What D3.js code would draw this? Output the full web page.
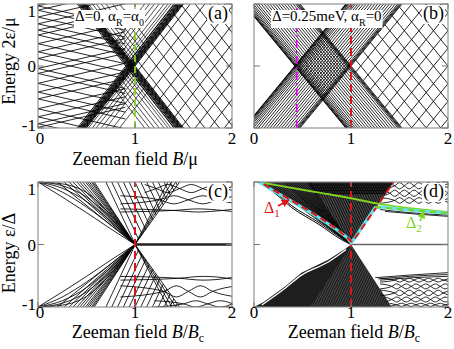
<!DOCTYPE html>
<html><head><meta charset="utf-8">
<script src="https://cdn.jsdelivr.net/npm/d3@7/dist/d3.min.js"></script>
<style>
html,body{margin:0;padding:0;background:#fff;}
svg{display:block;}
text{font-family:'Liberation Serif','DejaVu Serif',serif;}
</style></head><body>
<svg id="fig" width="454" height="349" font-family="Liberation Serif, DejaVu Serif, serif"></svg>
<script>
// ================= DATA =================
const xTickValues = [0, 1, 2];
const xTickLabels = ["0", "1", "2"];
const yTickValues = [-1, 0, 1];
const yTickLabels = ["-1", "0", "1"];

// panel (a): Δ=0, α_R=α_0
const slopeA = 2.0;
const bandA = [0.905, 0.92, 0.93, 0.94, 0.95, 0.958, 0.966, 0.974, 0.982, 0.99, 1.0];
const gridA = [1.07, 1.22, 1.37, 1.52, 1.67, 1.82, 1.97, 2.12, 2.27, 2.42];
const wedgeA = [0.6, 0.65, 0.7, 0.75, 0.8, 0.84, 0.87, 0.9, 1.02, 1.06, 1.1, 1.15, 1.2, 1.27, 1.34];
const levelsA = [0.97, 0.9, 0.79, 0.68, 0.58, 0.5, 0.36, 0.23, 0.12, -0.04, -0.12, -0.28, -0.42, -0.53, -0.69, -0.82, -0.93, -0.99];
const braidSlopeA = 0.36;
const criticalA = 1.0;

// panel (b): Δ=0.25meV, α_R=0
const slopeB = 1.9;
const bandB = [0.42, 0.425, 0.43, 0.44, 0.45, 0.465, 0.48, 0.5, 0.52, 0.545, 0.57, 0.6, 0.63, 0.66, 0.69, 0.72, 0.75, 0.78, 0.81, 0.84, 0.87, 0.9, 0.93, 0.955, 0.97, 0.98, 0.99, 1.0];
const gridB = [1.1, 1.25, 1.4, 1.55, 1.7, 1.85, 2.0, 2.15, 2.3, 2.45, 2.6];
const markerB = 0.44;
const criticalB = 1.0;

// panel (c)
const fanStartsC = [0.2, 0.27, 0.32, 0.36, 0.4, 0.43, 0.46, 0.49, 0.51, 0.53, 0.55, 0.565, 0.58];
const curveNodesC = [0, 0.25, 0.5, 0.75, 1];
const curvesC = [
  [1, 0.76, 0.51, 0.25, 0],
  [1, 0.84, 0.6, 0.31, 0],
  [1, 0.9, 0.69, 0.37, 0],
  [1, 0.94, 0.76, 0.42, 0],
  [1, 0.97, 0.83, 0.47, 0]
];
const wedgeEdgesC = [1.34, 1.38, 1.42, 1.46];
const hatchC = [0.7, 0.76, 0.82, 0.88, 0.94, 1.0, 1.06, 1.12, 1.18, 1.24, 1.3, 1.36, 1.42];
const hatchSlopeC = -3.3;
const braidsC = [
  {lo: 0.83, hi: 0.96, nodes: [1.1, 1.22, 1.46, 1.70, 1.95, 2.05]},
  {lo: 0.65, hi: 0.78, nodes: [0.85, 1.25, 1.55, 1.85, 2.05]},
  {lo: 0.52, hi: 0.57, nodes: [0.85, 1.4, 1.9, 2.05]},
  {lo: -0.57, hi: -0.51, nodes: [0.85, 1.45, 1.95, 2.05]},
  {lo: -0.84, hi: -0.66, nodes: [0.85, 1.3, 1.55, 1.8, 2.05]},
  {lo: -1.0, hi: -0.9, nodes: [1.2, 1.5, 1.75, 2.0, 2.05]}
];
const zeroModeC = [[1, 0], [2, 0]];
const criticalC = 1.0;

// panel (d)
const fanStartsD = [0.12, 0.15, 0.18, 0.21, 0.24, 0.27, 0.3, 0.32, 0.34, 0.36, 0.38, 0.4, 0.42, 0.44, 0.46, 0.48, 0.5, 0.52, 0.54, 0.56];
const hatchD = [0.56, 0.585, 0.61, 0.635, 0.66, 0.685, 0.71, 0.735, 0.76, 0.785, 0.81, 0.835, 0.86, 0.885, 0.91, 0.935, 0.96, 0.985, 1.01, 1.035, 1.06, 1.085, 1.11, 1.135, 1.16, 1.185, 1.21, 1.235, 1.26, 1.285, 1.31, 1.335, 1.36, 1.385, 1.41, 1.435];
const hatchSlopeD = -3.3;
const stripesD = [0.99, 0.965, 0.94, 0.915, 0.89, 0.865, 0.84, 0.815];
const topCurvesD = [
  [[0.05, 1], [0.2, 0.86], [0.39, 0.62], [0.67, 0.35], [0.9, 0.1], [1, 0]],
  [[0.05, 1], [0.2, 0.84], [0.39, 0.59], [0.67, 0.32], [0.9, 0.08], [1, 0]]
];
const bottomEdgeD = [[0, -1], [0.1, -0.92], [0.32, -0.67], [0.49, -0.45], [0.77, -0.24], [0.95, -0.06], [1, 0]];
const bottomWhiteD = [[0.08, -0.97], [0.32, -0.7], [0.49, -0.49], [0.77, -0.275], [0.95, -0.08]];
const bottomRightEdgeD = [[1, 0], [1.42, -1]];
const braidsD = [
  {lo: 0.89, hi: 0.99, nodes: [1.35, 1.45, 1.55, 1.65, 1.75, 1.85, 1.95, 2.05]},
  {lo: 0.77, hi: 0.87, nodes: [1.3, 1.4, 1.5, 1.6, 1.7, 1.8, 1.9, 2.0, 2.05]},
  {lo: 0.66, hi: 0.75, nodes: [1.3, 1.45, 1.55, 1.65, 1.75, 1.85, 1.95, 2.05]},
  {lo: -0.6, hi: -0.54, nodes: [1.3, 1.45, 1.55, 1.65, 1.75, 1.85, 1.95, 2.05]},
  {lo: -0.71, hi: -0.63, nodes: [1.3, 1.42, 1.52, 1.62, 1.72, 1.82, 1.92, 2.02, 2.05]},
  {lo: -0.82, hi: -0.73, nodes: [1.3, 1.45, 1.55, 1.65, 1.75, 1.85, 1.95, 2.05]},
  {lo: -0.92, hi: -0.84, nodes: [1.35, 1.42, 1.52, 1.62, 1.72, 1.82, 1.92, 2.02, 2.05]},
  {lo: -0.99, hi: -0.94, nodes: [1.4, 1.47, 1.57, 1.67, 1.77, 1.87, 1.97, 2.05]}
];
const belowCyanD = [
  [[1.3, 0.56], [1.6, 0.51], [2, 0.47]],
  [[1.35, 0.53], [1.65, 0.49], [2, 0.45]]
];
const lowerLinesD = [
  [[1.25, -0.53], [1.6, -0.49], [2, -0.45]],
  [[1.28, -0.55], [1.6, -0.51], [2, -0.48]],
  [[1.3, -0.57], [1.65, -0.53], [2, -0.51]]
];
const cyanD = [[0.05, 1.0], [0.2, 0.86], [0.39, 0.69], [0.67, 0.43], [0.85, 0.24], [0.96, 0.11], [1.0, 0.03], [1.04, 0.1], [1.11, 0.27], [1.25, 0.59], [1.32, 0.6], [1.53, 0.56], [2.0, 0.5]];
const redD = [[0.1, 0.965], [0.2, 0.87], [0.39, 0.7], [0.67, 0.44], [0.85, 0.25], [0.96, 0.11], [1.0, 0.05], [1.02, 0.05], [1.44, 1.0]];
const greenD = [[0.05, 1.0], [0.3, 0.93], [0.67, 0.83], [1.0, 0.74], [1.29, 0.65], [1.6, 0.58], [2.0, 0.52]];
const greenDashD = [[1.25, 0.6], [1.53, 0.56], [2.0, 0.5]];
const zeroModeD = [[1, 0], [2, 0]];
const criticalD = 1.0;

// ================= DRAWING =================
const FONT = "Liberation Serif, DejaVu Serif, serif";
const frames = {
  a: {l: 38, r: 232, t: 4, b: 128},
  b: {l: 254, r: 448, t: 4, b: 128},
  c: {l: 38, r: 232, t: 182, b: 307},
  d: {l: 254, r: 448, t: 182, b: 307}
};
const svg = d3.select("#fig");
const defs = svg.append("defs");
let clipCount = 0;

function makePanel(key) {
  const f = frames[key];
  const x = d3.scaleLinear().domain([0, 2]).range([f.l, f.r]);
  const y = d3.scaleLinear().domain([-1, 1]).range([f.b, f.t]);
  const id = "clip_" + key;
  defs.append("clipPath").attr("id", id).append("rect")
    .attr("x", f.l).attr("y", f.t).attr("width", f.r - f.l).attr("height", f.b - f.t);
  const g = svg.append("g");
  const inner = g.append("g").attr("clip-path", `url(#${id})`);
  return {key, f, x, y, g, inner};
}
function region(P, poly) {
  const id = "rc" + (clipCount++);
  defs.append("clipPath").attr("id", id).append("polygon")
    .attr("points", poly.map(p => P.x(p[0]) + "," + P.y(p[1])).join(" "));
  return P.inner.append("g").attr("clip-path", `url(#${id})`);
}
function path(g, P, pts, st, curve) {
  const ln = d3.line().x(d => P.x(d[0])).y(d => P.y(d[1])).curve(curve || d3.curveLinear);
  const p = g.append("path").attr("d", ln(pts)).attr("fill", "none")
    .attr("stroke", (st && st.c) || "#000").attr("stroke-width", (st && st.w) || 0.85);
  if (st && st.dash) p.attr("stroke-dasharray", st.dash);
  if (st && st.op) p.attr("stroke-opacity", st.op);
  return p;
}
function family(g, P, offsets, s, st) {
  offsets.forEach(b => path(g, P, [[-0.6, s * (-0.6 - b)], [2.6, s * (2.6 - b)]], st));
}
function braidCurves(row) {
  const n = row.nodes, mid = (row.lo + row.hi) / 2;
  const A = [], B = [];
  const ext = (k, first) => ((k % 2 === 0) === first) ? row.hi : row.lo;
  A.push([n[0], ext(0, true)]); B.push([n[0], ext(0, false)]);
  for (let i = 1; i < n.length - 1; i++) {
    A.push([n[i], mid]); B.push([n[i], mid]);
    if (i < n.length - 2) {
      const m = (n[i] + n[i + 1]) / 2;
      A.push([m, ext(i, true)]); B.push([m, ext(i, false)]);
    }
  }
  A.push([n[n.length - 1], ext(n.length - 2, true)]);
  B.push([n[n.length - 1], ext(n.length - 2, false)]);
  return [A, B];
}
function drawBraids(g, P, rows, st) {
  rows.forEach(r => braidCurves(r).forEach(c => path(g, P, c, st, d3.curveMonotoneX)));
}
function vline(P, b, st) { path(P.inner, P, [[b, -1], [b, 1]], st); }

function boxedText(g, x, y, parts, size, anchor, fill, box) {
  const t = g.append("text").attr("x", x).attr("y", y).attr("font-size", size)
    .attr("font-family", FONT)
    .attr("text-anchor", anchor || "start").attr("fill", fill || "#000");
  parts.forEach(pt => {
    const s = t.append("tspan").text(pt.t);
    if (pt.dy) s.attr("dy", pt.dy);
    if (pt.fs) s.attr("font-size", pt.fs);
    if (pt.it) s.attr("font-style", "italic");
  });
  if (box) {
    const bb = t.node().getBBox();
    g.insert("rect", () => t.node()).attr("x", bb.x - 1).attr("y", bb.y + 2)
      .attr("width", bb.width + 2).attr("height", bb.height - 2).attr("fill", "#fff");
  }
  return t;
}
function axes(P, showY) {
  const f = P.f, g = P.g;
  g.append("rect").attr("x", f.l).attr("y", f.t).attr("width", f.r - f.l).attr("height", f.b - f.t)
    .attr("fill", "none").attr("stroke", "#8a8a8a").attr("stroke-width", 1.1);
  yTickValues.forEach(v => {
    g.append("line").attr("x1", f.l).attr("x2", f.l + 6).attr("y1", P.y(v)).attr("y2", P.y(v)).attr("stroke", "#777");
    g.append("line").attr("x1", f.r).attr("x2", f.r - 6).attr("y1", P.y(v)).attr("y2", P.y(v)).attr("stroke", "#777");
  });
  xTickValues.forEach(v => {
    g.append("line").attr("x1", P.x(v)).attr("x2", P.x(v)).attr("y1", f.b).attr("y2", f.b - 5).attr("stroke", "#777");
    g.append("line").attr("x1", P.x(v)).attr("x2", P.x(v)).attr("y1", f.t).attr("y2", f.t + 5).attr("stroke", "#777");
  });
  const xlY = f.b + (f.t < 100 ? 16 : 11);
  xTickValues.forEach((v, i) => {
    g.append("text").attr("x", P.x(v) + (v === 0 && showY ? 2 : 0)).attr("y", xlY).attr("text-anchor", "middle")
      .attr("font-family", FONT).attr("font-size", 17).text(xTickLabels[i]);
  });
  if (showY) {
    yTickValues.forEach((v, i) => {
      let yy = P.y(v) + 6;
      if (v === 1) yy = f.t + 13;
      if (v === -1) yy = f.b + 3;
      g.append("text").attr("x", f.l - 2).attr("y", yy).attr("text-anchor", "end")
        .attr("font-family", FONT).attr("font-size", 17).text(yTickLabels[i]);
    });
  }
}

const thin = {w: 0.85};
const red = "#e01414", green = "#7ed321", cyan = "#5fe3ee", magenta = "#e600e6";

// ---------- panel (a) ----------
{
  const P = makePanel("a");
  const right = region(P, [[1, 0], [1.5, 1], [2.1, 1], [2.1, -1], [1.5, -1]]);
  family(right, P, gridA, slopeA, thin); family(right, P, gridA, -slopeA, thin);
  const wt = region(P, [[0.46, 1], [0.96, 0], [1.46, 1]]);
  family(wt, P, wedgeA, slopeA, {w: 0.7}); family(wt, P, wedgeA, -slopeA, {w: 0.7});
  const wb = region(P, [[0.46, -1], [0.96, 0], [1.46, -1]]);
  family(wb, P, wedgeA, slopeA, {w: 0.7}); family(wb, P, wedgeA, -slopeA, {w: 0.7});
  const left = region(P, [[0, 1], [0.9, 1], [0.9, -1], [0, -1]]);
  levelsA.forEach(L => {
    path(left, P, [[0, L], [0.95, L + braidSlopeA * 0.95]], thin);
    path(left, P, [[0, L], [0.95, L - braidSlopeA * 0.95]], thin);
  });
  family(P.inner, P, bandA, slopeA, {w: 0.95}); family(P.inner, P, bandA, -slopeA, {w: 0.95});
  vline(P, criticalA, {c: green, w: 1.8, dash: "7,4"});
  boxedText(P.g, 75, 21, [{t: "Δ=0, α"}, {t: "R", dy: 5, fs: 10}, {t: "=α", dy: -5}, {t: "0", dy: 5, fs: 10}], 15, "start", "#000", true);
  boxedText(P.g, P.f.r - 4, P.f.t + 15, [{t: "(a)"}], 18, "end", "#000", true);
  axes(P, true);
}
// ---------- panel (b) ----------
{
  const P = makePanel("b");
  family(P.inner, P, bandB, slopeB, thin); family(P.inner, P, bandB, -slopeB, thin);
  const right = region(P, [[1, 0], [1 + 1 / slopeB, 1], [2.1, 1], [2.1, -1], [1 + 1 / slopeB, -1]]);
  family(right, P, gridB, slopeB, thin); family(right, P, gridB, -slopeB, thin);
  vline(P, markerB, {c: magenta, w: 1.6, dash: "8,3,2,3"});
  vline(P, criticalB, {c: red, w: 2, dash: "8,4"});
  boxedText(P.g, 272, 21, [{t: "Δ=0.25meV, α"}, {t: "R", dy: 5, fs: 10}, {t: "=0", dy: -5}], 15, "start", "#000", true);
  boxedText(P.g, P.f.r - 4, P.f.t + 15, [{t: "(b)"}], 18, "end", "#000", true);
  axes(P, false);
}
// ---------- panel (c) ----------
{
  const P = makePanel("c");
  const g = P.inner;
  fanStartsC.forEach(b0 => { path(g, P, [[b0, 1], [1, 0]], thin); path(g, P, [[b0, -1], [1, 0]], thin); });
  curvesC.forEach(c => {
    path(g, P, curveNodesC.map((b, i) => [b, c[i]]), thin, d3.curveMonotoneX);
    path(g, P, curveNodesC.map((b, i) => [b, -c[i]]), thin, d3.curveMonotoneX);
  });
  wedgeEdgesC.forEach(t => { path(g, P, [[1, 0], [t, 1]], thin); path(g, P, [[1, 0], [t, -1]], thin); });
  const wt = region(P, [[0.58, 1], [1, 0], [1.46, 1]]);
  hatchC.forEach(t => path(wt, P, [[t - 0.5, 1 - 0.5 * hatchSlopeC], [t + 0.5, 1 + 0.5 * hatchSlopeC]], thin));
  const wb = region(P, [[0.58, -1], [1, 0], [1.46, -1]]);
  hatchC.forEach(t => path(wb, P, [[t - 0.5, -(1 - 0.5 * hatchSlopeC)], [t + 0.5, -(1 + 0.5 * hatchSlopeC)]], thin));
  drawBraids(g, P, braidsC, thin);
  path(g, P, zeroModeC, {w: 2.6, c: "#222"});
  vline(P, criticalC, {c: red, w: 2, dash: "8,4"});
  boxedText(P.g, P.f.r - 4, P.f.t + 15, [{t: "(c)"}], 18, "end", "#000", true);
  axes(P, true);
}
// ---------- panel (d) ----------
{
  const P = makePanel("d");
  const g = P.inner;
  const topDark = cyanD.slice(0, 7).concat(redD.slice(7));
  g.append("path").attr("d", d3.line().x(d => P.x(d[0])).y(d => P.y(d[1]))(topDark.concat([[1.44, 1], [0.05, 1]])))
    .attr("fill", "#4a4a4a");
  fanStartsD.forEach(b0 => path(g, P, [[b0, 1], [1, 0]], thin));
  const wt = region(P, [[0.55, 1], [1, 0.02], [1.44, 1]]);
  hatchD.forEach(t => path(wt, P, [[t - 0.5, 1 - 0.5 * hatchSlopeD], [t + 0.5, 1 + 0.5 * hatchSlopeD]], thin));
  stripesD.forEach(s => path(wt, P, [[0, s], [2, s]], thin));
  const botPoly = bottomEdgeD.concat(bottomRightEdgeD.slice(1)).concat([[0, -1]]);
  g.append("path").attr("d", d3.line().x(d => P.x(d[0])).y(d => P.y(d[1])).curve(d3.curveLinear)(botPoly))
    .attr("fill", "#1e1e1e");
  const wb = region(P, [[0.58, -1], [1, -0.02], [1.42, -1]]);
  hatchD.forEach(t => path(wb, P, [[t - 0.5, -(1 - 0.5 * hatchSlopeD)], [t + 0.5, -(1 + 0.5 * hatchSlopeD)]], {w: 0.6, c: "#fff", op: 0.35}));
  path(g, P, bottomWhiteD, {w: 1.3, c: "#fff"}, d3.curveMonotoneX);
  topCurvesD.forEach(c => path(g, P, c, {w: 1}, d3.curveMonotoneX));
  const rt = region(P, [[1.25, 0.6], [1.44, 1], [2.1, 1], [2.1, 0.5]]);
  drawBraids(rt, P, braidsD.filter(r => r.lo > 0), thin);
  const rb = region(P, [[1.0, -0.3], [1.42, -1], [2.1, -1], [2.1, -0.3]]);
  drawBraids(rb, P, braidsD.filter(r => r.lo < 0), thin);
  belowCyanD.forEach(c => path(g, P, c, thin, d3.curveMonotoneX));
  lowerLinesD.forEach(c => path(rb, P, c, thin, d3.curveMonotoneX));
  path(g, P, zeroModeD, {w: 1.5, c: "#666"});
  vline(P, criticalD, {c: red, w: 2, dash: "8,4"});
  path(g, P, greenD, {c: green, w: 2}, d3.curveMonotoneX);
  path(g, P, cyanD, {c: cyan, w: 3.2}, d3.curveLinear);
  path(g, P, redD, {c: red, w: 2, dash: "7,4"});
  path(g, P, greenDashD, {c: green, w: 2, dash: "6,5"});
  ["r", "g"].forEach(k => {
    defs.append("marker").attr("id", "arr_" + k).attr("viewBox", "0 0 10 10").attr("refX", 9).attr("refY", 5)
      .attr("markerWidth", 5).attr("markerHeight", 5).attr("orient", "auto")
      .append("path").attr("d", "M0,0L10,5L0,10z").attr("fill", k === "r" ? red : green);
  });
  boxedText(P.g, 264, 213, [{t: "Δ"}, {t: "1", dy: 4, fs: 11}], 16, "start", red, false);
  P.g.append("line").attr("x1", 278).attr("y1", 206).attr("x2", 289).attr("y2", 200)
    .attr("stroke", red).attr("stroke-width", 1.6).attr("marker-end", "url(#arr_r)");
  boxedText(P.g, 406, 228, [{t: "Δ"}, {t: "2", dy: 4, fs: 11}], 16, "start", green, false);
  P.g.append("line").attr("x1", 420).attr("y1", 221).attr("x2", 424).attr("y2", 211)
    .attr("stroke", green).attr("stroke-width", 1.6).attr("marker-end", "url(#arr_g)");
  boxedText(P.g, P.f.r - 4, P.f.t + 15, [{t: "(d)"}], 18, "end", "#000", true);
  axes(P, false);
}
// ---------- axis titles ----------
function title(x, y, parts, rot) {
  const t = svg.append("text").attr("font-size", 18).attr("text-anchor", "middle").attr("font-family", FONT);
  if (rot) t.attr("transform", `translate(${x},${y}) rotate(-90)`);
  else t.attr("x", x).attr("y", y);
  parts.forEach(pt => {
    const s = t.append("tspan").text(pt.t);
    if (pt.it) s.attr("font-style", "italic");
    if (pt.dy) s.attr("dy", pt.dy);
    if (pt.fs) s.attr("font-size", pt.fs);
  });
}
title(15, 61, [{t: "Energy 2ε/μ"}], true);
title(15, 253, [{t: "Energy ε/Δ"}], true);
title(135, 165, [{t: "Zeeman field "}, {t: "B", it: true}, {t: "/μ"}], false);
title(138, 338, [{t: "Zeeman field "}, {t: "B", it: true}, {t: "/"}, {t: "B", it: true}, {t: "c", dy: 4, fs: 12}], false);
title(354, 338, [{t: "Zeeman field "}, {t: "B", it: true}, {t: "/"}, {t: "B", it: true}, {t: "c", dy: 4, fs: 12}], false);
</script>
</body></html>
